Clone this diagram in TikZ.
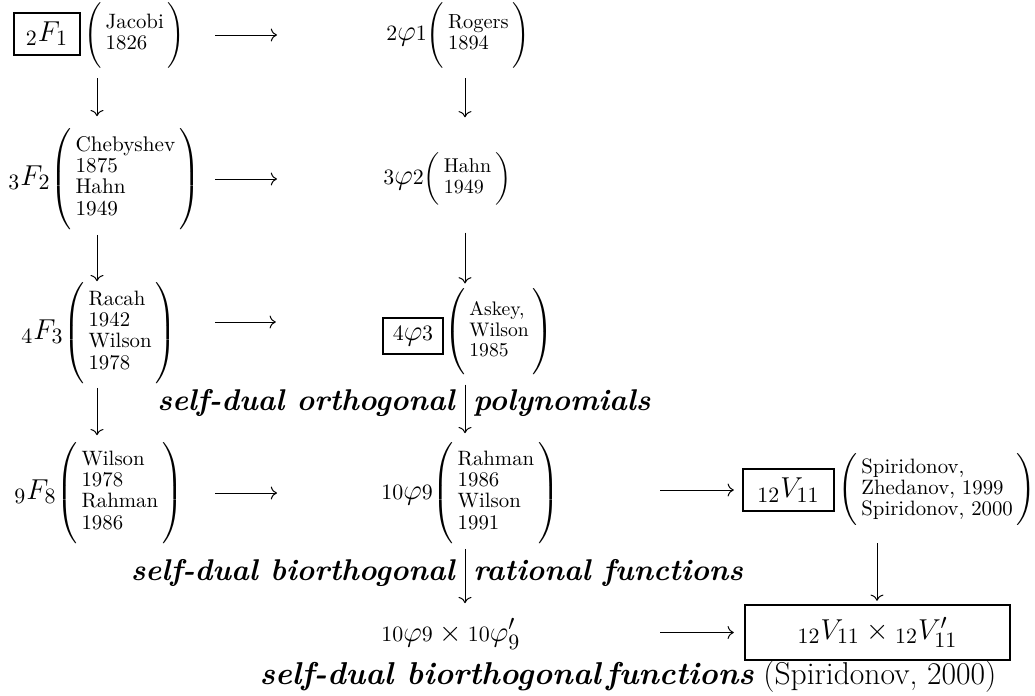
\documentclass[tikz,border=0pt]{standalone}
\usepackage{amsmath}
\usetikzlibrary{arrows.meta}
\newcommand{\refsp}[5]{\hbox{\fontsize{#1}{#1}\selectfont$\left(\vcenter{\hbox{\rule{0pt}{#2pt}}}\vcenter{\hbox{\fontsize{#3}{#4}\selectfont\begin{tabular}{@{\hspace{2pt}}l@{\hspace{2pt}}}#5\end{tabular}}}\right)$}}
\tikzset{
  arr/.style={line width=0.5pt,-{To[scale=1.15]}},
  sym/.style={inner sep=0pt,font=\fontsize{15}{18}\selectfont},
  framed/.style={draw,line width=1.2pt,inner sep=0pt,font=\fontsize{15}{18}\selectfont},
  par/.style={inner sep=0pt,anchor=west},
  lbl/.style={inner sep=0pt,font=\fontsize{15}{18}\selectfont\bfseries\itshape}
}
\begin{document}
\delimiterfactor=1000 \delimitershortfall=0pt
\begin{tikzpicture}[x=0.5pt,y=-0.5pt]
\useasboundingbox (0,0) rectangle (1035,696);
\coordinate (colA) at (97,0);
\coordinate (colB) at (465,0);
\coordinate (colC) at (877,0);
\coordinate (h1s) at (215,0);
\coordinate (h2s) at (660,0);
% row 1
\node[framed,minimum width=33pt,minimum height=21pt] (b21) at (47,34) {$_2F_1$};
\node[par] (p21) at (84,35) {\refsp{11.4}{27}{10.4}{10.6}{Jacobi\\1826}};
\node[sym,anchor=west] (r1b) at (386,35) {${\scriptstyle2}\varphi{\scriptstyle1}$\refsp{11.4}{27}{10.2}{10.6}{Rogers\\1894}};
% row 2
\node[sym,anchor=west] (r2a) at (8,179) {$_3F_2$\refsp{12.5}{45}{10.6}{10.6}{Chebyshev\\1875\\Hahn\\1949}};
\node[sym,anchor=west] (r2b) at (383,179) {${\scriptstyle3}\varphi{\scriptstyle2}$\refsp{10.8}{25}{10}{10.4}{Hahn\\1949}};
% row 3
\node[sym,anchor=west] (r3a) at (21,333) {$_4F_3$\refsp{12.5}{45}{10.4}{10.6}{Racah\\1942\\Wilson\\1978}};
\node[framed,minimum width=30pt,minimum height=18pt] (b43) at (413,336) {${\scriptstyle4}\varphi{\scriptstyle3}$};
\node[par] (p43) at (444,332) {\refsp{12}{40}{9.8}{10.2}{Askey,\\Wilson\\1985}};
% row 4
\node[sym,anchor=west] (r4a) at (14,493) {$_9F_8$\refsp{12.5}{45}{10.4}{10.6}{Wilson\\1978\\Rahman\\1986}};
\node[sym,anchor=west] (r4b) at (381,493) {${\scriptstyle10}\varphi{\scriptstyle9}$\refsp{12.5}{45}{10.4}{10.6}{Rahman\\1986\\Wilson\\1991}};
\node[framed,minimum width=45.5pt,minimum height=21pt] (b1211) at (788.5,490) {$_{12}V_{11}$};
\node[par] (p1211) at (838,490) {\refsp{11.7}{34}{10.4}{10.6}{Spiridonov,\\Zhedanov, 1999\\Spiridonov, 2000}};
% row 5
\node[sym,anchor=west] (r5b) at (381,634) {${\scriptstyle10}\varphi{\scriptstyle9}\times{\scriptstyle10}\varphi'_9$};
\node[framed,minimum width=132.5pt,minimum height=27.5pt] (b5) at (877.5,632.5) {$_{12}V_{11}\times{}_{12}V'_{11}$};
% labels
\node[lbl,anchor=base east] (l1a) at (455,410) {self-dual orthogonal};
\node[lbl,anchor=base west] (l1b) at (473,410) {polynomials};
\node[lbl,anchor=base east] (l2a) at (455,580) {self-dual biorthogonal};
\node[lbl,anchor=base west] (l2b) at (473,580) {rational functions};
\node[inner sep=0pt,anchor=base,font=\fontsize{15.8}{18}\selectfont] (l3) at (628,684) {\textbf{\textit{self-dual biorthogonal}}\hspace{2pt}\textbf{\textit{functions}} (Spiridonov, 2000)};
% horizontal arrows
\draw[arr,shorten >=54.5pt] (p21.east -| h1s) -- (p21.east -| r1b.west);
\draw[arr,shorten >=53pt] (r2a.east -| h1s) -- (r2a.east -| r2b.west);
\draw[arr,shorten >=53pt] ([yshift=5.5pt]r3a.east -| h1s) -- ([yshift=5.5pt]r3a.east -| b43.west);
\draw[arr,shorten >=52pt] (r4a.east -| h1s) -- (r4a.east -| r4b.west);
\draw[arr,shorten >=4pt] (b1211.west -| h2s) -- (b1211.west);
\draw[arr,shorten >=5pt] (b5.west -| h2s) -- (b5.west);
% vertical arrows
\draw[arr,shorten <=5pt,shorten >=6pt] (p21.south -| colA) -- (r2a.north -| colA);
\draw[arr,shorten <=5pt,shorten >=17.5pt] (r1b.south -| colB) -- (r2b.north -| colB);
\draw[arr,shorten <=2.5pt,shorten >=0.5pt] (r2a.south -| colA) -- (r3a.north -| colA);
\draw[arr,shorten <=13.5pt,shorten >=2.5pt] (r2b.south -| colB) -- (p43.north -| colB);
\draw[arr,shorten <=2pt,shorten >=3.5pt] (r3a.south -| colA) -- (r4a.north -| colA);
\draw[arr,shorten <=4.5pt,shorten >=4.5pt] (p43.south -| colB) -- (r4b.north -| colB);
\draw[arr,shorten <=2.5pt,shorten >=7.5pt] (r4b.south -| colB) -- (r5b.north -| colB);
\draw[arr,shorten <=8.5pt,shorten >=1.5pt] (p1211.south -| colC) -- (b5.north -| colC);
\end{tikzpicture}
\end{document}
